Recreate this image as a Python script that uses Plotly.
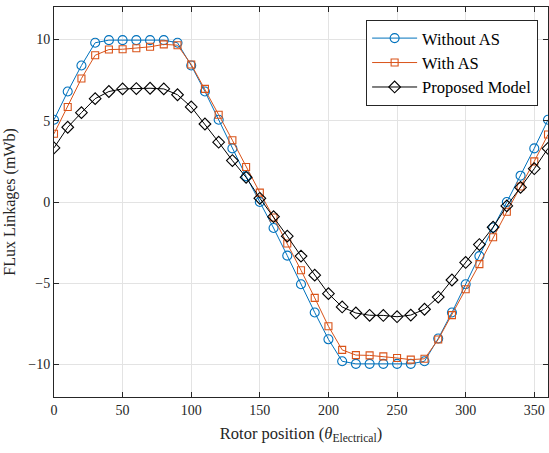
import plotly.graph_objects as go

theta = list(range(0, 361, 10))

without_as = [5.06, 6.8, 8.4, 9.8, 9.96, 9.96, 9.96, 9.96, 9.96, 9.8,
              8.4, 6.8, 5.06, 3.3, 1.58, 0.0, -1.6, -3.3, -5.06, -6.8,
              -8.45, -9.8, -9.96, -9.96, -9.96, -9.96, -9.96, -9.8, -8.4, -6.8,
              -5.06, -3.33, -1.57, 0.0, 1.62, 3.3, 5.06]

with_as = [4.2, 5.85, 7.6, 9.03, 9.38, 9.4, 9.46, 9.55, 9.7, 9.65,
           8.46, 6.96, 5.37, 3.8, 2.15, 0.58, -0.95, -2.55, -4.2, -5.9,
           -7.65, -9.1, -9.42, -9.44, -9.5, -9.6, -9.7, -9.65, -8.46, -6.96,
           -5.37, -3.82, -2.17, -0.6, 0.95, 2.5, 4.15]

proposed = [3.33, 4.6, 5.5, 6.36, 6.8, 6.96, 6.98, 7.0, 6.96, 6.6,
            5.85, 4.8, 3.68, 2.55, 1.52, 0.23, -0.9, -2.1, -3.33, -4.5,
            -5.64, -6.46, -6.83, -6.97, -6.98, -7.06, -6.96, -6.6, -5.85, -4.8,
            -3.72, -2.62, -1.55, -0.24, 0.9, 2.05, 3.3]

x_ticks = [0, 50, 100, 150, 200, 250, 300, 350]
y_ticks = [-10, -5, 0, 5, 10]

series = [
    ("Without AS", without_as, "#0072BD", "circle-open", 9),
    ("With AS", with_as, "#D95319", "square-open", 7),
    ("Proposed Model", proposed, "#000000", "diamond-open", 9),
]

FONT = "Liberation Serif"

fig = go.Figure()
for name, vals, color, sym, size in series:
    fig.add_trace(go.Scatter(
        x=theta, y=vals, name=name, mode="lines+markers",
        line=dict(color=color, width=1),
        marker=dict(symbol=sym, size=size, color=color, line=dict(width=1.1, color=color)),
    ))

axis_common = dict(
    showline=True, linecolor="#262626", linewidth=1, mirror="ticks",
    ticks="inside", ticklen=5, tickcolor="#262626",
    showgrid=True, gridcolor="#e3e3e3", gridwidth=1,
    zeroline=False, automargin=False,
    tickfont=dict(family=FONT, size=14, color="#262626"),
)

fig.update_layout(
    width=549, height=453,
    margin=dict(l=54, r=1, t=7, b=56),
    paper_bgcolor="white", plot_bgcolor="white",
    font=dict(family=FONT, color="#262626"),
    xaxis=dict(range=[0, 360], tickvals=x_ticks,
               title=dict(text="Rotor position (<i>θ</i><sub>Electrical</sub>)",
                          font=dict(family=FONT, size=16.5), standoff=10),
               **axis_common),
    yaxis=dict(range=[-12, 12], tickvals=y_ticks,
               title=dict(text="FLux Linkages (mWb)", font=dict(family=FONT, size=16), standoff=8),
               **axis_common),
    legend=dict(x=0.98, y=0.967, xanchor="right", yanchor="top",
                bgcolor="white", bordercolor="#262626", borderwidth=1,
                font=dict(family=FONT, size=16.5, color="#000000"),
                tracegroupgap=0, itemwidth=45),
    showlegend=True,
)

fig.write_html("out.html",
               config={"displayModeBar": False},
               post_script="document.body.style.margin='0';document.body.style.padding='0';")
